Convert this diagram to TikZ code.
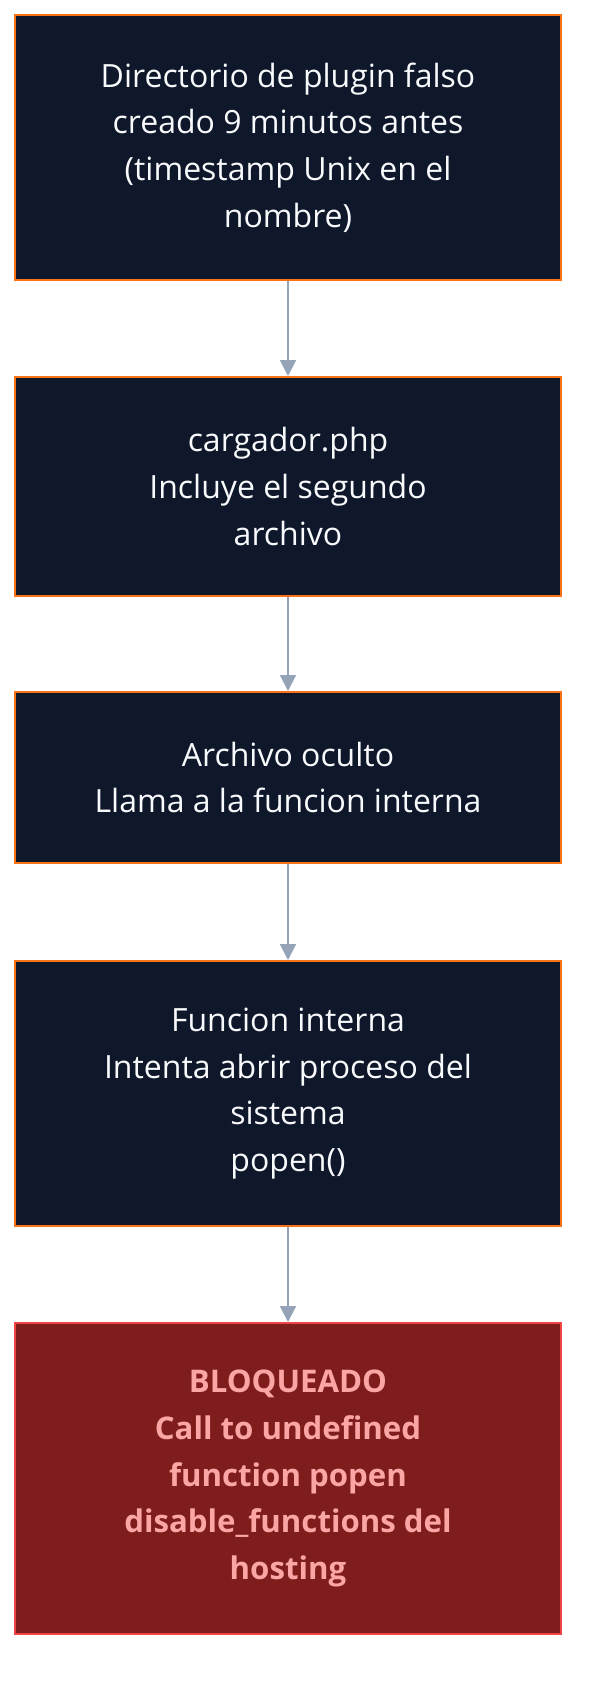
\documentclass[tikz,border=0pt]{standalone}
\usepackage{fontspec}
\setmainfont{Open Sans}
\usetikzlibrary{arrows.meta}
\definecolor{navy}{HTML}{0F172A}
\definecolor{orangeb}{HTML}{F97316}
\definecolor{arrowc}{HTML}{94A3B8}
\definecolor{redfill}{HTML}{7F1D1D}
\definecolor{redb}{HTML}{EF4444}
\definecolor{redtext}{HTML}{FCA5A5}
\definecolor{whitetext}{HTML}{F8FAFC}
\begin{document}
\begin{tikzpicture}[x=1pt,y=-1pt,
  stepbox/.style={draw=orangeb, line width=2pt, fill=navy, text=whitetext,
    minimum width=546pt, inner sep=0pt, align=center,
    font=\fontsize{32}{46.7}\selectfont},
  blockbox/.style={draw=redb, line width=2pt, fill=redfill, text=redtext,
    minimum width=546pt, inner sep=0pt, align=center,
    font=\fontsize{31.2}{46.7}\selectfont\bfseries},
  flow/.style={draw=arrowc, line width=2pt, -{Triangle[width=16pt,length=16pt]}}]
\useasboundingbox (0,0) rectangle (592,1696);
\node[stepbox, minimum height=265pt] (a) at (288,147.5)
  {Directorio de plugin falso\\creado 9 minutos antes\\(timestamp Unix en el\\nombre)};
\node[stepbox, minimum height=219pt] (b) at (288,486.5)
  {cargador.php\\Incluye el segundo\\archivo};
\node[stepbox, minimum height=171pt] (c) at (288,777.5)
  {Archivo oculto\\Llama a la funcion interna};
\node[stepbox, minimum height=265pt] (d) at (288,1093.5)
  {Funcion interna\\Intenta abrir proceso del\\sistema\\popen()};
\node[blockbox, minimum height=311pt] (e) at (288,1478.5)
  {BLOQUEADO\\Call to undefined\\function popen\\disable\_functions del\\hosting};
\draw[flow] (a.south) -- (b.north);
\draw[flow] (b.south) -- (c.north);
\draw[flow] (c.south) -- (d.north);
\draw[flow] (d.south) -- (e.north);
\end{tikzpicture}
\end{document}
